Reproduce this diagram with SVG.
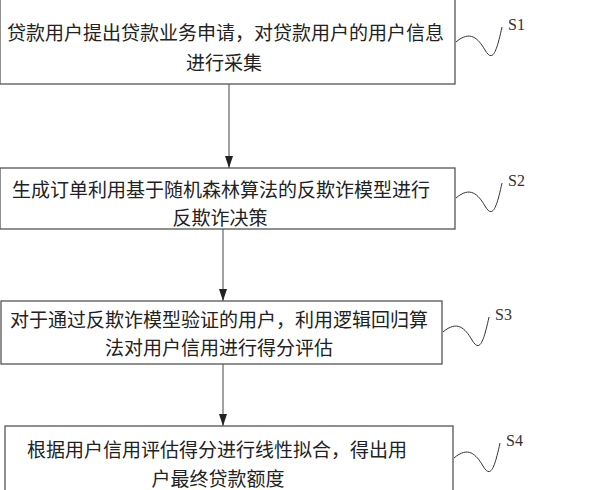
<svg xmlns="http://www.w3.org/2000/svg" width="611" height="490" viewBox="0 0 611 490">
<style>
.b{fill:#fff;stroke:#555;stroke-width:1.3}
.t{font-family:"Liberation Serif","Noto Sans CJK SC",serif;font-size:19px;fill:#222}
.m{text-anchor:middle}
.c{stroke:#444;stroke-width:1;fill:none}
.s{stroke:#333;stroke-width:1;fill:none}
.l{font-family:"Liberation Serif",serif;font-size:16px;fill:#333}
</style>
<defs><marker id="a" markerWidth="12" markerHeight="8" refX="12" refY="4" orient="auto" markerUnits="userSpaceOnUse" viewBox="0 0 12 8"><path d="M0,0 L12,4 L0,8 Z" fill="#222"/></marker></defs>
<rect width="611" height="490" fill="#fff"/>
<g id="connectors">
<line class="c" x1="229" y1="84" x2="229" y2="168" marker-end="url(#a)"/>
<line class="c" x1="223" y1="229" x2="223" y2="301" marker-end="url(#a)"/>
<line class="c" x1="223" y1="364" x2="223" y2="426" marker-end="url(#a)"/>
</g>
<g id="s1">
<rect class="b" x="0" y="-2" width="455" height="86"/>
<text class="t" x="7" y="40">贷款用户提出贷款业务申请，对贷款用户的用户信息</text>
<text class="t m" x="224" y="70">进行采集</text>
<path class="s" d="M456,42 C470,30 478,38 485,50 C492,62 496,55 502,27"/>
<text class="l" x="508" y="30">S1</text>
</g>
<g id="s2">
<rect class="b" x="0" y="168" width="455" height="61"/>
<text class="t" x="12" y="197">生成订单利用基于随机森林算法的反欺诈模型进行</text>
<text class="t m" x="220" y="225">反欺诈决策</text>
<path class="s" d="M456,198 C470,186 478,194 485,206 C492,218 496,211 502,183"/>
<text class="l" x="508" y="186">S2</text>
</g>
<g id="s3">
<rect class="b" x="1" y="301" width="441" height="63"/>
<text class="t" x="10" y="327">对于通过反欺诈模型验证的用户，利用逻辑回归算</text>
<text class="t m" x="219" y="355">法对用户信用进行得分评估</text>
<path class="s" d="M443,332 C457,320 465,328 472,340 C479,352 483,345 489,317"/>
<text class="l" x="495" y="320">S3</text>
</g>
<g id="s4">
<rect class="b" x="5" y="426" width="448" height="70"/>
<text class="t" x="27" y="457">根据用户信用评估得分进行线性拟合，得出用</text>
<text class="t m" x="218" y="486">户最终贷款额度</text>
<path class="s" d="M454,458 C468,446 476,454 483,466 C490,478 494,471 500,443"/>
<text class="l" x="506" y="446">S4</text>
</g>
</svg>
